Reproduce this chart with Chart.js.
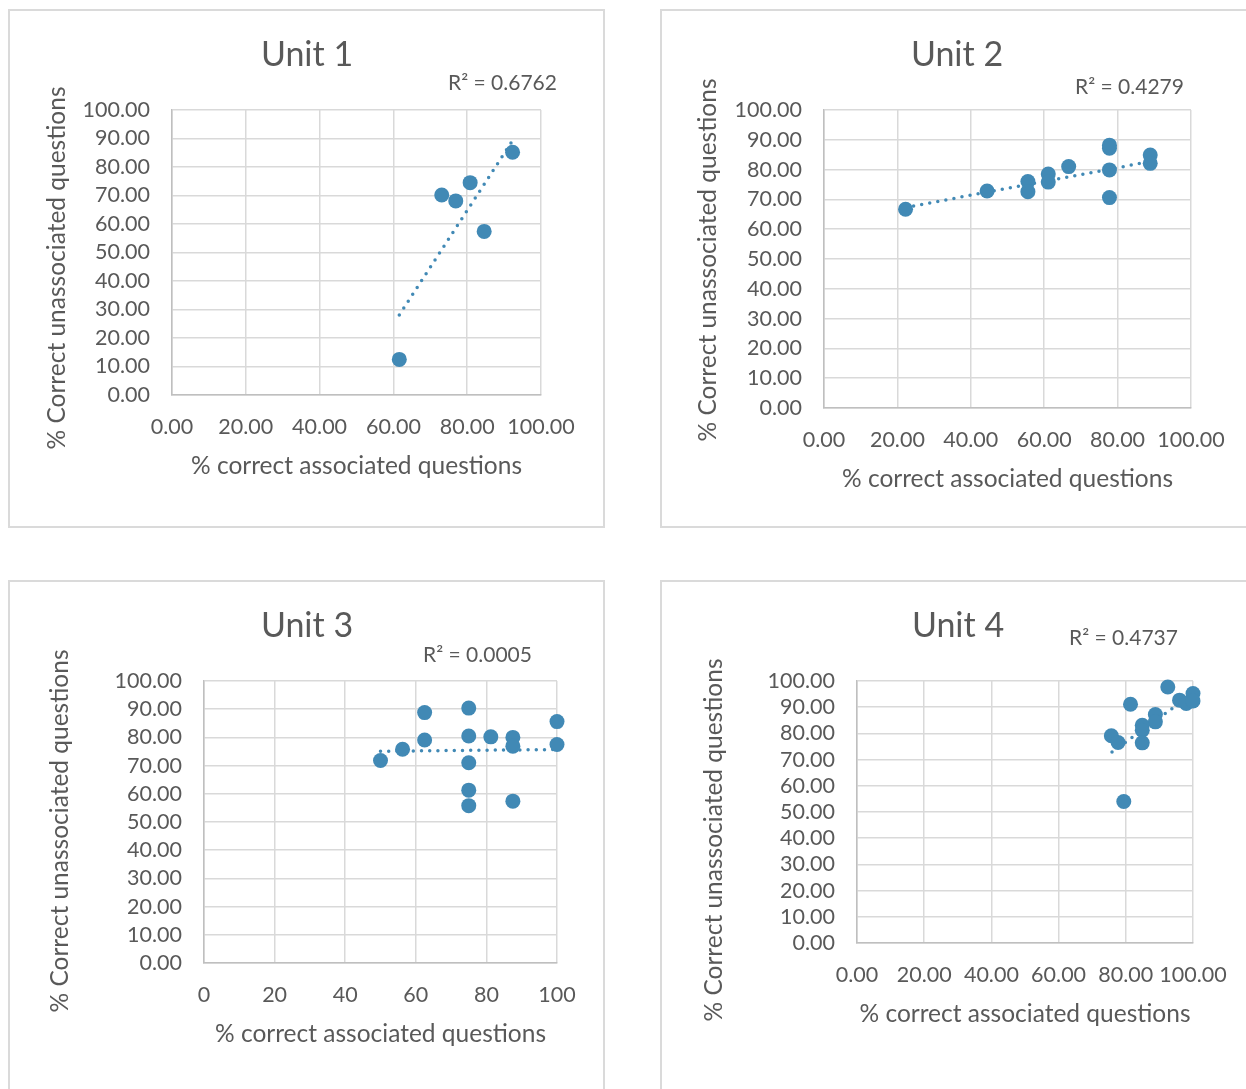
<!DOCTYPE html>
<html>
<head>
<meta charset="utf-8">
<script src="https://cdn.jsdelivr.net/npm/chart.js@4.4.1/dist/chart.umd.min.js"></script>
<style>
html, body { margin: 0; padding: 0; overflow: hidden; background: #fff; width: 1246px; height: 1089px; }
.box { position: absolute; border: 2px solid #dadada; box-sizing: border-box; }
.wrap { position: absolute; }
</style>
</head>
<body>
<div class="box" style="left:8px;top:9px;width:597px;height:519px"></div>
<div class="box" style="left:660px;top:9px;width:700px;height:519px"></div>
<div class="box" style="left:8px;top:580px;width:597px;height:600px"></div>
<div class="box" style="left:660px;top:580px;width:700px;height:600px"></div>

<div class="wrap" style="left:9px;top:10px;width:596px;height:518px"><canvas id="unit1"></canvas></div>
<div class="wrap" style="left:661px;top:10px;width:592px;height:518px"><canvas id="unit2"></canvas></div>
<div class="wrap" style="left:9px;top:581px;width:596px;height:520px"><canvas id="unit3"></canvas></div>
<div class="wrap" style="left:661px;top:581px;width:594px;height:520px"><canvas id="unit4"></canvas></div>

<script>
// values
const unit1X = [92.3, 80.8, 73.1, 76.9, 84.6, 61.6];
const unit1Y = [85.2, 74.5, 70.2, 68.1, 57.4, 12.5];
const unit1Trend = [[61.6, 28.1], [92.1, 88.9]];

const unit2X = [22.22, 44.44, 55.56, 55.56, 61.11, 61.11, 66.67, 77.78, 77.78, 77.78, 77.78, 88.89, 88.89];
const unit2Y = [66.7, 72.8, 76.0, 72.6, 78.5, 75.8, 81.0, 87.2, 88.2, 79.9, 70.6, 84.9, 82.1];
const unit2Trend = [[22.22, 67.3], [88.89, 82.7]];

const unit3X = [62.5, 75, 100, 62.5, 75, 81.25, 87.5, 87.5, 100, 56.25, 50, 75, 75, 75, 87.5];
const unit3Y = [88.8, 90.4, 85.6, 79.1, 80.5, 80.2, 80.0, 76.9, 77.5, 75.8, 71.8, 71.0, 61.3, 55.8, 57.4];
const unit3Trend = [[50, 75.1], [100, 75.7]];

const unit4X = [92.5, 81.4, 100, 96.0, 98.0, 100, 88.8, 88.8, 84.9, 84.9, 84.9, 75.7, 77.7, 79.4];
const unit4Y = [97.7, 91.1, 95.2, 92.7, 91.4, 92.4, 87.2, 84.4, 83.1, 81.2, 76.4, 79.1, 76.5, 54.0];
const unit4Trend = [[75.9, 72.9], [100, 95.2]];

const titles = ['Unit 1', 'Unit 2', 'Unit 3', 'Unit 4'];
const r2Labels = ['R² = 0.6762', 'R² = 0.4279', 'R² = 0.0005', 'R² = 0.4737'];
const xAxisTitle = '% correct associated questions';
const yAxisTitle = '% Correct unassociated questions';

const blue = '#4189b5';
const grey = '#595959';

Chart.defaults.font.family = 'Lato';
Chart.defaults.color = grey;

// r2 text and rotated y title
const extraText = {
    id: 'extraText',
    afterDraw(chart, args, o) {
        const ctx = chart.ctx;
        ctx.save();
        ctx.fillStyle = grey;
        ctx.font = '21px Lato';
        ctx.textBaseline = 'middle';
        ctx.textAlign = 'left';
        ctx.fillText(o.r2, o.r2x, o.r2y);
        ctx.translate(o.ytx, o.yty);
        ctx.rotate(-Math.PI / 2);
        ctx.textAlign = 'center';
        ctx.font = '24.5px Lato';
        ctx.fillText(yAxisTitle, 0, 0);
        ctx.restore();
    }
};

function makeChart(id, i, xs, ys, trend, g) {
    const pts = xs.map((x, k) => ({x: x, y: ys[k]}));
    const line = trend.map(p => ({x: p[0], y: p[1]}));
    new Chart(document.getElementById(id), {
        type: 'scatter',
        data: {
            datasets: [{
                data: pts,
                pointRadius: 7.5,
                pointHoverRadius: 7.5,
                pointBackgroundColor: blue,
                pointBorderWidth: 0,
                showLine: false,
                clip: false
            }, {
                data: line,
                showLine: true,
                pointRadius: 0,
                borderColor: blue,
                borderWidth: 3.5,
                borderDash: [0, 8.2],
                borderCapStyle: 'round',
                clip: false
            }]
        },
        options: {
            responsive: true,
            maintainAspectRatio: false,
            animation: false,
            layout: { padding: 0 },
            plugins: {
                legend: { display: false },
                tooltip: { enabled: false },
                title: {
                    display: true,
                    text: titles[i],
                    color: grey,
                    font: { size: 34, weight: 'normal' },
                    padding: { top: 24.6, bottom: 34.6 }
                },
                extraText: { r2: r2Labels[i], r2x: g.r2x, r2y: g.r2y, ytx: g.ytx, yty: g.yty }
            },
            scales: {
                x: {
                    min: 0, max: 100,
                    ticks: {
                        stepSize: 20, padding: 19, color: grey, font: { size: 21.5 },
                        autoSkip: false, maxRotation: 0, minRotation: 0,
                        callback: v => g.intX ? String(v) : v.toFixed(2)
                    },
                    grid: { color: '#d9d9d9', lineWidth: 1.5, drawTicks: false },
                    border: { color: '#bfbfbf', width: 1.5 },
                    title: {
                        display: true, text: xAxisTitle, color: grey, font: { size: 24.5 },
                        padding: { top: 0, bottom: g.bottom - 71 - 14.7 }
                    },
                    afterFit: s => { s.height = g.bottom; }
                },
                y: {
                    min: 0, max: 100,
                    ticks: {
                        stepSize: 10, padding: 22, color: grey, font: { size: 21.5 },
                        autoSkip: false, callback: v => v.toFixed(2)
                    },
                    grid: { color: '#d9d9d9', lineWidth: 1.5, drawTicks: false },
                    border: { color: '#bfbfbf', width: 1.5 },
                    afterFit: s => { s.width = g.left; }
                },
                y2: {
                    position: 'right',
                    grid: { display: false },
                    border: { display: false },
                    ticks: { display: false },
                    afterFit: s => { s.width = g.right; }
                }
            }
        },
        plugins: [extraText]
    });
}

makeChart('unit1', 0, unit1X, unit1Y, unit1Trend,
    { left: 163, right: 64, bottom: 133, r2x: 439, r2y: 73, ytx: 48, yty: 258 });
makeChart('unit2', 1, unit2X, unit2Y, unit2Trend,
    { left: 163, right: 62, bottom: 120, r2x: 414, r2y: 77, ytx: 47, yty: 250 });
makeChart('unit3', 2, unit3X, unit3Y, unit3Trend,
    { left: 195, right: 48, bottom: 138, r2x: 414, r2y: 74, ytx: 51, yty: 250, intX: true });
makeChart('unit4', 3, unit4X, unit4Y, unit4Trend,
    { left: 196, right: 62, bottom: 158, r2x: 408, r2y: 57, ytx: 53, yty: 259 });
</script>
</body>
</html>
